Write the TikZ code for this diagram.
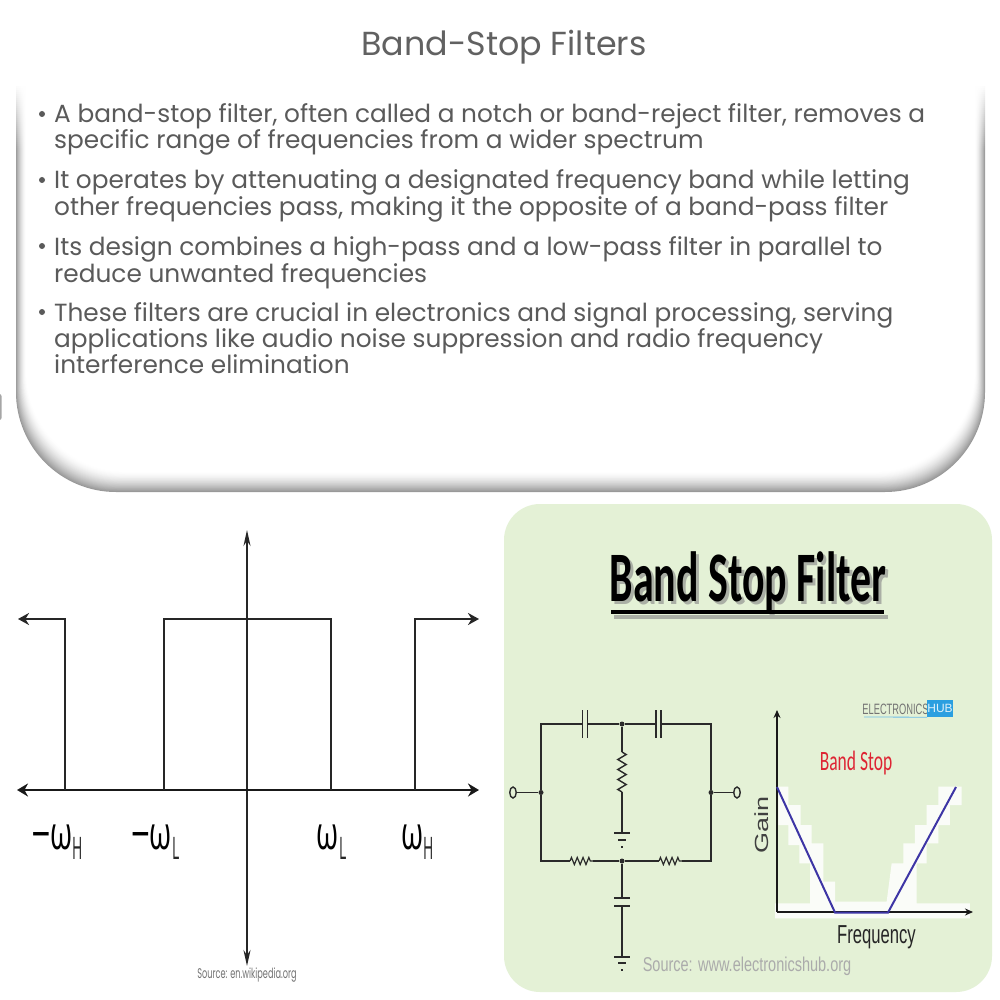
\documentclass[tikz,border=0pt]{standalone}
\usepackage{fontspec}
\setmainfont{Poppins}
\newfontfamily\greekf{Open Sans}
\newfontfamily\carl{Carlito}
\newfontfamily\libs{Liberation Sans}
\usetikzlibrary{arrows.meta,decorations.pathmorphing,shapes.geometric}
\definecolor{panelgreen}{HTML}{E4F1D6}
\definecolor{bodygray}{HTML}{5A5A5A}
\definecolor{wire}{HTML}{2A2A2A}
\definecolor{bluecurve}{HTML}{3D35A5}
\definecolor{redlabel}{HTML}{DE2433}
\definecolor{hubblue}{HTML}{2B9FE0}
\tikzset{
 x=1pt,y=-1pt,
 bodyline/.style={anchor=base west,inner sep=0pt,font=\fontsize{24.8}{26}\selectfont,text=bodygray},
 omegalabel/.style={anchor=base,inner sep=0pt,font=\greekf\fontsize{46}{46}\selectfont,text=black,xscale=.62,transform shape},
 sublabel/.style={anchor=base west,inner sep=0pt,font=\greekf\fontsize{31}{31}\selectfont,text=black!85,xscale=.45,transform shape},
 minuslabel/.style={anchor=base,inner sep=0pt,font=\greekf\bfseries\fontsize{32}{32}\selectfont,text=black},
 axisline/.style={line width=2.6pt,draw=black!90},
 thinline/.style={line width=1.9pt,draw=black!85},
 sigline/.style={line width=2.4pt,draw=black!85},
 bigtip/.style={-{Stealth[length=11pt,width=12pt]}},
 cwire/.style={line width=1.4pt,draw=wire},
 plate/.style={line width=1.4pt,draw=wire},
 resv/.style={line width=1.4pt,draw=wire,decorate,decoration={zigzag,segment length=10pt,amplitude=4.2pt}},
 resh/.style={line width=1.2pt,draw=wire,decorate,decoration={zigzag,segment length=5.8pt,amplitude=3.6pt}},
 dotj/.style={circle,fill=wire,inner sep=0pt,minimum size=5pt},
 term/.style={ellipse,draw=wire,line width=1.4pt,fill=panelgreen,inner sep=0pt,minimum width=6.5pt,minimum height=11pt},
 halo/.style={fill=white,opacity=.85,draw=none},
}
\begin{document}
\begin{tikzpicture}
\useasboundingbox (0,0) rectangle (1000,1000);
\fill[white] (0,0) rectangle (1000,1000);
% card shadow
\foreach \i in {0,...,24}{
  \pgfmathsetmacro\t{\i/24}
  \pgfmathsetmacro\shade{40*(1-\t)^1.6}
  \pgfmathsetmacro\xa{16+10*\t}
  \pgfmathsetmacro\xb{985-10*\t}
  \pgfmathsetmacro\yb{492-20*\t}
  \fill[black!\shade!white,rounded corners=100pt] (\xa,-100) rectangle (\xb,\yb);
}
\fill[white] (0,0) rectangle (1000,84);
\foreach \i in {0,...,32}{
  \pgfmathsetmacro\op{1-\i/33}
  \pgfmathsetmacro\ya{84+2*\i}
  \pgfmathsetmacro\yc{86+2*\i}
  \fill[white,opacity=\op] (0,\ya) rectangle (1000,\yc);
}
\fill[black!35,rounded corners=2pt] (-3,394) rectangle (1.5,420);
% title
\node[inner sep=0pt,font=\fontsize{33.3}{34}\selectfont,text=black!62] (title) at (504,47) {Band-Stop Filters};
% bullets
\foreach \y in {114,180,246,312}{\fill[bodygray] (42,\y) circle (3pt);}
\node[bodyline] (l1) at (54,123) {A band-stop filter, often called a notch or band-reject filter, removes a};
\node[bodyline] (l2) at (54,149) {specific range of frequencies from a wider spectrum};
\node[bodyline] (l3) at (54,189) {It operates by attenuating a designated frequency band while letting};
\node[bodyline] (l4) at (54,216) {other frequencies pass, making it the opposite of a band-pass filter};
\node[bodyline] (l5) at (54,255) {Its design combines a high-pass and a low-pass filter in parallel to};
\node[bodyline] (l6) at (54,282) {reduce unwanted frequencies};
\node[bodyline] (l7) at (54,321) {These filters are crucial in electronics and signal processing, serving};
\node[bodyline] (l8) at (54,347) {applications like audio noise suppression and radio frequency};
\node[bodyline] (l9) at (54,373) {interference elimination};
% left plot
\coordinate (vt) at (247,530); \coordinate (vb) at (247,966);
\coordinate (hl) at (17,790); \coordinate (hr) at (479,790);
\coordinate (a0) at (65,790); \coordinate (a1) at (65,619); \coordinate (a2) at (18,619);
\coordinate (b0) at (164,790); \coordinate (b1) at (164,619); \coordinate (b2) at (331,619); \coordinate (b3) at (331,790);
\coordinate (c0) at (415,790); \coordinate (c1) at (415,619); \coordinate (c2) at (479,619);
\draw[thinline,{Stealth[length=16pt,width=7pt]}-{Stealth[length=16pt,width=7pt]}] (vt) -- (vb);
\draw[axisline,{Stealth[length=11pt,width=13pt]}-{Stealth[length=11pt,width=13pt]}] (hl) -- (hr);
\draw[sigline,bigtip] (a0) -- (a1) -- (a2);
\draw[sigline] (b0) -- (b1) -- (b2) -- (b3);
\draw[sigline,bigtip] (c0) -- (c1) -- (c2);
\node[minuslabel] (m1) at (41,845) {−};
\node[omegalabel] (om1) at (61.5,849) {ω};
\node[sublabel] (s1) at (72,859) {H};
\node[minuslabel] (m2) at (140.5,845) {−};
\node[omegalabel] (om2) at (161,849) {ω};
\node[sublabel] (s2) at (172,859) {L};
\node[omegalabel] (om3) at (328,849) {ω};
\node[sublabel] (s3) at (339,859) {L};
\node[omegalabel] (om4) at (412.5,849) {ω};
\node[sublabel] (s4) at (423,859) {H};
\node[inner sep=0pt,text=black!55,font=\fontsize{14}{14}\selectfont,xscale=.585,transform shape] (src1) at (247,975) {Source: en.wikipedia.org};
% green panel
\fill[panelgreen,rounded corners=36pt] (504,504) rectangle (992,992);
% panel title
\node[anchor=base,inner sep=0pt,font=\carl\bfseries\fontsize{71}{71}\selectfont,xscale=.59,transform shape,text=black!45,opacity=.65] (ptitleS) at (751,604) {Band Stop Filter};
\fill[black!45,opacity=.65] (614,615) rectangle (888,618.5);
\node[anchor=base,inner sep=0pt,font=\carl\bfseries\fontsize{71}{71}\selectfont,xscale=.59,transform shape,text=black] (ptitle) at (748,601) {Band Stop Filter};
\fill[black] (611,610) rectangle (884,613.5);
% circuit
\coordinate (tl) at (541,724); \coordinate (tr) at (711,724);
\coordinate (bl) at (541,861); \coordinate (br) at (711,861);
\node[dotj] (jt) at (622,724) {};
\node[dotj] (jb) at (622,861) {};
\node[dotj] (jl) at (541,792.5) {};
\node[dotj] (jr) at (711,792.5) {};
\node[term] (tin) at (513,792.5) {};
\node[term] (tout) at (737,792.5) {};
\coordinate (c1a) at (582.5,724); \coordinate (c1b) at (587.5,724);
\coordinate (c2a) at (656,724); \coordinate (c2b) at (661,724);
\draw[cwire] (tin) -- (jl);
\draw[cwire] (jr) -- (tout);
\draw[cwire] (jl) -- (tl) -- (c1a);
\draw[cwire] (c1b) -- (jt) -- (c2a);
\draw[cwire] (c2b) -- (tr) -- (jr);
\draw[plate] (582.5,710) -- (582.5,738);
\draw[plate] (587.5,710) -- (587.5,738);
\draw[plate] (656,710) -- (656,738);
\draw[plate] (661,710) -- (661,738);
\coordinate (r1a) at (622,752); \coordinate (r1b) at (622,792);
\coordinate (g1) at (622,833);
\draw[cwire] (jt) -- (r1a);
\draw[resv] (r1a) -- (r1b);
\draw[cwire] (r1b) -- (g1);
\draw[plate] (614,833) -- (630,833);
\draw[plate] (618,840) -- (626,840);
\fill[wire] (621,846) rectangle (623,848);
\coordinate (r2a) at (570,861); \coordinate (r2b) at (593,861);
\coordinate (r3a) at (659,861); \coordinate (r3b) at (682,861);
\draw[cwire] (jl) -- (bl) -- (r2a);
\draw[resh] (r2a) -- (r2b);
\draw[cwire] (r2b) -- (jb) -- (r3a);
\draw[resh] (r3a) -- (r3b);
\draw[cwire] (r3b) -- (br) -- (jr);
\coordinate (c3a) at (622,898); \coordinate (c3b) at (622,906); \coordinate (g2) at (622,957);
\draw[cwire] (jb) -- (c3a);
\draw[plate] (614,898) -- (630,898);
\draw[plate] (614,906) -- (630,906);
\draw[cwire] (c3b) -- (g2);
\draw[plate] (614,957) -- (630,957);
\draw[plate] (618,963) -- (626,963);
\fill[wire] (621,969) rectangle (623,971);
% response plot halos
\begin{scope}[shift={(770,775)},x=.3333pt,y=-.3333pt]
\fill[halo] (25,35) -- (55,35) -- (55,90) -- (92,90) -- (92,150) -- (125,150) -- (125,205) -- (160,205) -- (160,320) -- (195,320) -- (195,380) -- (350,380) -- (365,265) -- (400,265) -- (400,205) -- (435,205) -- (435,150) -- (470,150) -- (470,90) -- (505,90) -- (505,35) -- (575,35) -- (575,90) -- (540,90) -- (540,150) -- (505,150) -- (505,205) -- (470,205) -- (470,265) -- (440,265) -- (440,385) -- (600,385) -- (600,430) -- (15,430) -- (15,385) -- (120,385) -- (120,265) -- (88,265) -- (88,210) -- (55,210) -- (55,150) -- (25,150) -- cycle;
\end{scope}
% response plot
\coordinate (oo) at (777,912); \coordinate (yt) at (777,710); \coordinate (xr) at (973,912);
\coordinate (p1) at (777,787); \coordinate (p2) at (835,912.5); \coordinate (p3) at (888,912.5); \coordinate (p4) at (956,787);
\draw[line width=1.5pt,draw=black!90,-{Stealth[length=8pt,width=7pt]}] (oo) -- (yt);
\draw[line width=1.5pt,draw=black!90,-{Stealth[length=8pt,width=7pt]}] (oo) -- (xr);
\draw[line width=2pt,draw=bluecurve] (p1) -- (p2) -- (p3) -- (p4);
\node[inner sep=0pt,font=\libs\fontsize{19}{19}\selectfont,rotate=90,xscale=1.42,transform shape,text=black!75] (gain) at (762,825) {Gain};
\node[inner sep=0pt,font=\libs\fontsize{26}{26}\selectfont,xscale=.64,transform shape,text=black!85] (freq) at (876.5,937) {Frequency};
\node[inner sep=0pt,font=\carl\fontsize{28}{28}\selectfont,xscale=.625,transform shape,text=redlabel] (bs) at (856,763) {Band Stop};
\node[inner sep=0pt,font=\libs\fontsize{15}{15}\selectfont,xscale=.62,transform shape,text=black!55] (elec) at (895.5,709) {ELECTRONICS};
\node[fill=hubblue,inner sep=0pt,minimum width=22pt,minimum height=17pt,text=white!85!hubblue,font=\libs\fontsize{12}{12}\selectfont] (hub) at (940,708.5) {HUB};
\draw[line width=.8pt,draw=hubblue!70] (864,717) -- (hub.south west);
\node[inner sep=0pt,font=\libs\fontsize{20}{20}\selectfont,xscale=.725,transform shape,text=black!33] (src2) at (747,966) {Source: www.electronicshub.org};
\end{tikzpicture}
\end{document}
